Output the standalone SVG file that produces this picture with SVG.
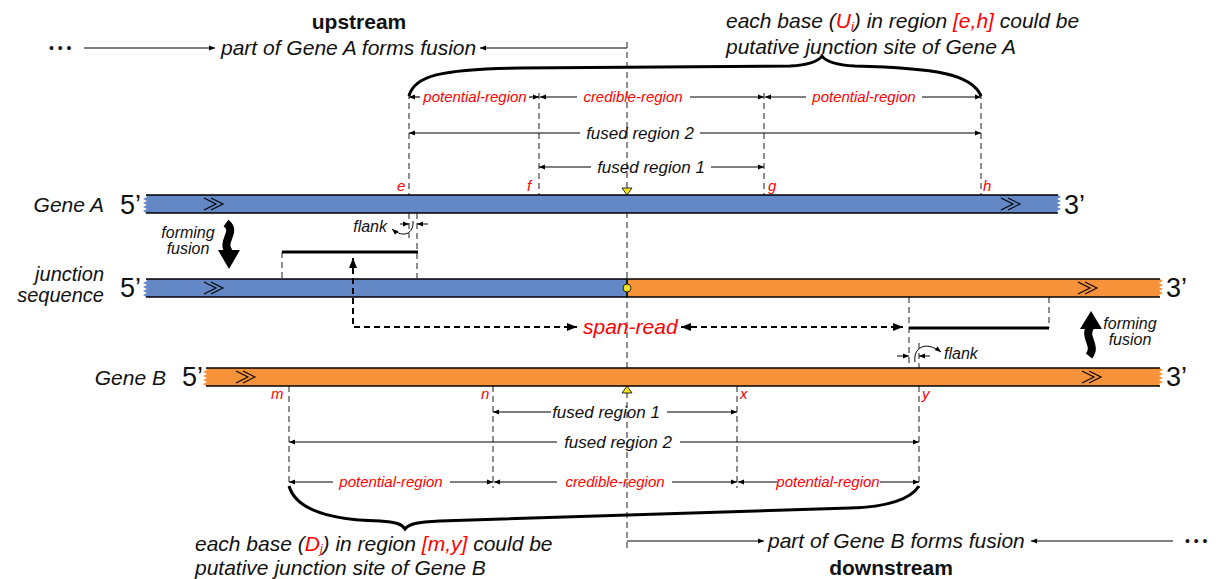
<svg xmlns="http://www.w3.org/2000/svg" width="1216" height="579" viewBox="0 0 1216 579">
  <style>
    text { font-family: "Liberation Sans", Arial, sans-serif; font-style: italic; fill: #111; }
    .bold { font-weight: bold; font-style: normal; }
    .lbl { font-size: 21px; }
    .lbl2 { font-size: 20px; }
    .end { font-size: 27px; font-style: normal; }
    .red { fill: #ff0000; }
    .pos { font-size: 15px; fill: #ff0000; }
    .reg { font-size: 15px; fill: #ff0000; }
    .fr { font-size: 17px; }
    .ff { font-size: 16px; }
    .dash { stroke: #333; stroke-width: 1.1; stroke-dasharray: 6 4; fill: none; }
    .meas { stroke: #000; stroke-width: 1.2; fill: none; marker-end: url(#ah); }
    .thin { stroke: #000; stroke-width: 1; fill: none; }
    .edge { stroke: #000; stroke-width: 1.6; }
    .chev { stroke: #000; stroke-width: 1.1; fill: none; }
    .blue { fill: #6487c6; }
    .orange { fill: #f5923a; }
    .brace { stroke: #000; stroke-width: 3; fill: none; }
    .read { stroke: #000; stroke-width: 3; }
    .span { stroke: #000; stroke-width: 2; stroke-dasharray: 6 4; fill: none; }
  </style>
  <defs>
    <marker id="ah" viewBox="0 0 10 10" refX="10" refY="5" markerWidth="7" markerHeight="6" markerUnits="userSpaceOnUse" orient="auto-start-reverse">
      <path d="M0,1 L10,5 L0,9 z" fill="#000"/>
    </marker>
    <marker id="ahb" viewBox="0 0 10 10" refX="10" refY="5" markerWidth="10" markerHeight="10" markerUnits="userSpaceOnUse" orient="auto-start-reverse">
      <path d="M0,1 L10,5 L0,9 z" fill="#000"/>
    </marker>
  </defs>

  <!-- header and footer captions -->
  <g id="upstream">
    <text x="359" y="29" class="lbl bold" text-anchor="middle">upstream</text>
    <text x="49" y="53" style="font-size:14px;font-style:normal">• • •</text>
    <line x1="84" y1="48" x2="215" y2="48" class="meas"/>
    <text x="221" y="55" class="lbl">part of Gene A forms fusion</text>
    <line x1="627" y1="48" x2="480" y2="48" class="meas"/>
  </g>
  <g id="noteA">
    <text x="726" y="28" class="lbl">each base (<tspan class="red">U</tspan><tspan class="red" font-size="13" dy="3">i</tspan><tspan dy="-3">) in region </tspan><tspan class="red">[e,h]</tspan> could be</text>
    <text x="726" y="54" class="lbl">putative junction site of Gene A</text>
  </g>
  <g id="downstream">
    <line x1="627" y1="541" x2="764" y2="541" class="meas"/>
    <text x="768" y="548" class="lbl">part of Gene B forms fusion</text>
    <line x1="1173" y1="541" x2="1031" y2="541" class="meas"/>
    <text x="1185" y="546" style="font-size:14px;font-style:normal">• • •</text>
    <text x="891" y="575" class="lbl bold" text-anchor="middle">downstream</text>
  </g>
  <g id="noteB">
    <text x="195" y="551" class="lbl">each base (<tspan class="red">D</tspan><tspan class="red" font-size="12" dy="2">j</tspan><tspan dy="-2">) in region </tspan><tspan class="red">[m,y]</tspan> could be</text>
    <text x="195" y="575" class="lbl">putative junction site of Gene B</text>
  </g>

  <!-- guide lines -->
  <g id="guides">
    <line x1="627" y1="42" x2="627" y2="551" class="dash"/>
    <line x1="409" y1="93" x2="409" y2="195" class="dash"/>
    <line x1="539" y1="93" x2="539" y2="195" class="dash"/>
    <line x1="764" y1="93" x2="764" y2="195" class="dash"/>
    <line x1="981" y1="93" x2="981" y2="195" class="dash"/>
    <line x1="409" y1="213" x2="409" y2="238" class="dash"/>
    <line x1="417" y1="213" x2="417" y2="278" class="dash"/>
    <line x1="282" y1="252" x2="282" y2="278" class="dash"/>
    <line x1="909" y1="297" x2="909" y2="368" class="dash"/>
    <line x1="1049" y1="297" x2="1049" y2="328" class="dash"/>
    <line x1="919" y1="343" x2="919" y2="368" class="dash"/>
    <line x1="289" y1="386" x2="289" y2="488" class="dash"/>
    <line x1="493" y1="386" x2="493" y2="488" class="dash"/>
    <line x1="737" y1="386" x2="737" y2="488" class="dash"/>
    <line x1="919" y1="386" x2="919" y2="488" class="dash"/>
  </g>

  <!-- Gene A strand -->
  <g id="geneA">
    <text x="104" y="212" class="lbl" text-anchor="end">Gene A</text>
    <text x="120" y="214" class="end">5’</text>
    <path class="blue" d="M146,195 L1058,195 L1061,197 L1057,199 L1061,201 L1057,203 L1061,205 L1057,207 L1061,209 L1057,211 L1058,213 L146,213 L143,211 L147,209 L143,207 L147,205 L143,203 L147,201 L143,199 L147,197 Z"/>
    <line x1="146" y1="195" x2="1058" y2="195" class="edge"/>
    <line x1="146" y1="213" x2="1058" y2="213" class="edge"/>
    <polyline class="chev" points="204,198 216,204 204,210"/>
    <polyline class="chev" points="211,198 223,204 211,210"/>
    <polyline class="chev" points="1001,198 1013,204 1001,210"/>
    <polyline class="chev" points="1008,198 1020,204 1008,210"/>
    <text x="1064" y="214" class="end">3’</text>
    <path d="M622,188 L632,188 L627,195 Z" fill="#f2e11f" stroke="#000" stroke-width="0.8"/>
  </g>

  <!-- junction sequence -->
  <g id="junction">
    <text x="104" y="281" class="lbl2" text-anchor="end">junction</text>
    <text x="104" y="302" class="lbl2" text-anchor="end">sequence</text>
    <text x="120" y="297" class="end">5’</text>
    <path class="blue" d="M146,279 L627,279 L627,297 L146,297 L143,295 L147,293 L143,291 L147,289 L143,287 L147,285 L143,283 L147,281 Z"/>
    <path class="orange" d="M627,279 L1160,279 L1163,281 L1159,283 L1163,285 L1159,287 L1163,289 L1159,291 L1163,293 L1159,295 L1160,297 L627,297 Z"/>
    <line x1="146" y1="279" x2="1160" y2="279" class="edge"/>
    <line x1="146" y1="297" x2="1160" y2="297" class="edge"/>
    <line x1="627" y1="279" x2="627" y2="297" class="edge"/>
    <polyline class="chev" points="204,282 216,288 204,294"/>
    <polyline class="chev" points="211,282 223,288 211,294"/>
    <polyline class="chev" points="1078,282 1090,288 1078,294"/>
    <polyline class="chev" points="1085,282 1097,288 1085,294"/>
    <circle cx="627" cy="288" r="4" fill="#f2e11f" stroke="#000" stroke-width="0.8"/>
    <text x="1166" y="297" class="end">3’</text>
  </g>

  <!-- Gene B strand -->
  <g id="geneB">
    <text x="166" y="385" class="lbl" text-anchor="end">Gene B</text>
    <text x="182" y="386" class="end">5’</text>
    <path class="orange" d="M206,368 L1160,368 L1163,370 L1159,372 L1163,374 L1159,376 L1163,378 L1159,380 L1163,382 L1159,384 L1160,386 L206,386 L203,384 L207,382 L203,380 L207,378 L203,376 L207,374 L203,372 L207,370 Z"/>
    <line x1="206" y1="368" x2="1160" y2="368" class="edge"/>
    <line x1="206" y1="386" x2="1160" y2="386" class="edge"/>
    <polyline class="chev" points="236,371 248,377 236,383"/>
    <polyline class="chev" points="243,371 255,377 243,383"/>
    <polyline class="chev" points="1082,371 1094,377 1082,383"/>
    <polyline class="chev" points="1089,371 1101,377 1089,383"/>
    <text x="1166" y="386" class="end">3’</text>
    <path d="M622,393 L632,393 L627,386 Z" fill="#f2e11f" stroke="#000" stroke-width="0.8"/>
  </g>

  <!-- site labels -->
  <g id="sites">
    <text x="397" y="191" class="pos">e</text>
    <text x="527" y="191" class="pos">f</text>
    <text x="768" y="191" class="pos">g</text>
    <text x="983" y="191" class="pos">h</text>
    <text x="271" y="399" class="pos">m</text>
    <text x="481" y="399" class="pos">n</text>
    <text x="740" y="399" class="pos">x</text>
    <text x="922" y="399" class="pos">y</text>
  </g>

  <!-- region spans above Gene A -->
  <g id="regionsA">
    <line x1="420" y1="97" x2="409" y2="97" class="meas"/>
    <text x="475" y="102" class="reg" text-anchor="middle">potential-region</text>
    <line x1="529" y1="97" x2="539" y2="97" class="meas"/>
    <line x1="577" y1="97" x2="540" y2="97" class="meas"/>
    <text x="633" y="102" class="reg" text-anchor="middle">credible-region</text>
    <line x1="690" y1="97" x2="764" y2="97" class="meas"/>
    <line x1="806" y1="97" x2="765" y2="97" class="meas"/>
    <text x="864" y="102" class="reg" text-anchor="middle">potential-region</text>
    <line x1="922" y1="97" x2="981" y2="97" class="meas"/>

    <line x1="580" y1="133" x2="409" y2="133" class="meas"/>
    <text x="640" y="139" class="fr" text-anchor="middle">fused region 2</text>
    <line x1="700" y1="133" x2="981" y2="133" class="meas"/>

    <line x1="591" y1="167" x2="539" y2="167" class="meas"/>
    <text x="651" y="173" class="fr" text-anchor="middle">fused region 1</text>
    <line x1="711" y1="167" x2="764" y2="167" class="meas"/>

    <path class="brace" d="M409,96 C414,76 440,69 520,68 L790,66 C808,65 818,62 822,56 C826,62 836,65 855,66 C935,68 972,74 981,96"/>
  </g>

  <!-- region spans below Gene B -->
  <g id="regionsB">
    <line x1="551" y1="412" x2="493" y2="412" class="meas"/>
    <text x="606" y="418" class="fr" text-anchor="middle">fused region 1</text>
    <line x1="667" y1="412" x2="737" y2="412" class="meas"/>

    <line x1="557" y1="442" x2="289" y2="442" class="meas"/>
    <text x="618" y="448" class="fr" text-anchor="middle">fused region 2</text>
    <line x1="680" y1="442" x2="919" y2="442" class="meas"/>

    <line x1="333" y1="482" x2="289" y2="482" class="meas"/>
    <text x="391" y="487" class="reg" text-anchor="middle">potential-region</text>
    <line x1="450" y1="482" x2="493" y2="482" class="meas"/>
    <line x1="557" y1="482" x2="494" y2="482" class="meas"/>
    <text x="615" y="487" class="reg" text-anchor="middle">credible-region</text>
    <line x1="672" y1="482" x2="737" y2="482" class="meas"/>
    <line x1="777" y1="482" x2="738" y2="482" class="meas"/>
    <text x="828" y="487" class="reg" text-anchor="middle">potential-region</text>
    <line x1="880" y1="482" x2="919" y2="482" class="meas"/>

    <path class="brace" d="M289,486 C296,510 330,520 380,521 C396,522 402,524 405,529 C409,524 416,522 440,521 L850,508 C885,507 910,500 919,486"/>
  </g>

  <!-- reads spanning the junction -->
  <g id="reads">
    <line x1="282" y1="252" x2="418" y2="252" class="read"/>
    <line x1="909" y1="328" x2="1049" y2="328" class="read"/>
    <polyline class="span" points="353,258 353,327 577,327" marker-start="url(#ahb)" marker-end="url(#ahb)"/>
    <text x="583" y="334" class="lbl red">span-read</text>
    <line x1="681" y1="327" x2="903" y2="327" class="span" marker-start="url(#ahb)" marker-end="url(#ahb)"/>
  </g>

  <!-- flank marks -->
  <g id="flankA">
    <line x1="400" y1="224" x2="409" y2="224" class="thin" marker-end="url(#ah)"/>
    <line x1="428" y1="224" x2="417" y2="224" class="thin" marker-end="url(#ah)"/>
    <path class="thin" d="M413,221 C414,233 404,239 392,229" marker-end="url(#ah)"/>
    <text x="387" y="232" class="ff" text-anchor="end">flank</text>
  </g>
  <g id="flankB">
    <line x1="897" y1="356" x2="909" y2="356" class="thin" marker-end="url(#ah)"/>
    <line x1="930" y1="356" x2="919" y2="356" class="thin" marker-end="url(#ah)"/>
    <path class="thin" d="M915,362 C913,348 925,340 941,352" marker-end="url(#ah)"/>
    <text x="944" y="359" class="ff">flank</text>
  </g>

  <!-- forming fusion arrows -->
  <g id="fusionA">
    <text x="188" y="238" class="ff" text-anchor="middle">forming</text>
    <text x="188" y="254" class="ff" text-anchor="middle">fusion</text>
    <path d="M226,223 C238,232 220,241 229,252" stroke="#000" stroke-width="8" fill="none"/>
    <path d="M218,250 L240,250 L229,269 Z" fill="#000"/>
  </g>
  <g id="fusionB">
    <text x="1130" y="329" class="ff" text-anchor="middle">forming</text>
    <text x="1130" y="345" class="ff" text-anchor="middle">fusion</text>
    <path d="M1091,326 C1082,337 1098,345 1089,356" stroke="#000" stroke-width="8" fill="none"/>
    <path d="M1080,329 L1102,329 L1091,311 Z" fill="#000"/>
  </g>
</svg>
